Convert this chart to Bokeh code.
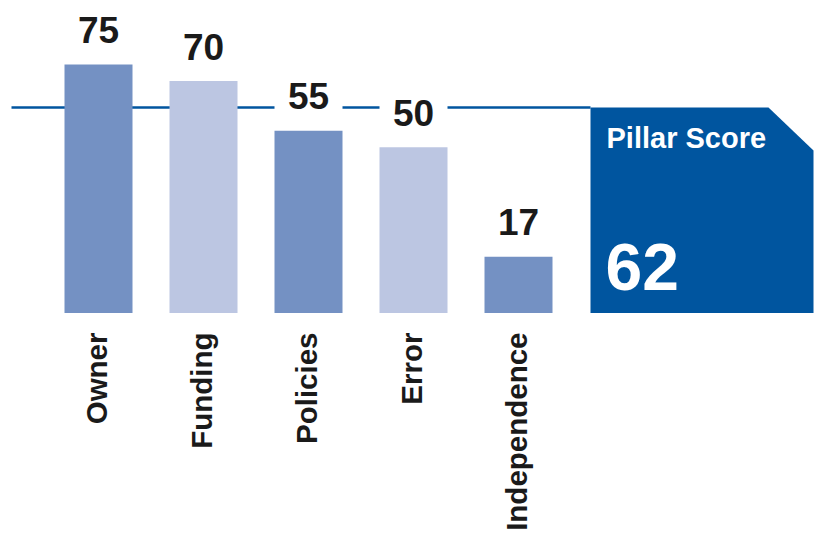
import numpy as np
from bokeh.plotting import figure
from bokeh.models import Range1d, ColumnDataSource
from bokeh.core.properties import value
from bokeh.embed import file_html
from bokeh.resources import INLINE

# ---- data ----
categories = ["Owner", "Funding", "Policies", "Error", "Independence"]
scores = [75, 70, 55, 50, 17]
pillar_score = 62
pillar_title = "Pillar Score"

# ---- style ----
DARK = "#7491c3"
LIGHT = "#bcc6e2"
BLUE = "#00559f"
INK = "#1a1a1a"
FONT = value("Liberation Sans")
bar_colors = [DARK if i % 2 == 0 else LIGHT for i in range(len(categories))]

W, H = 814, 536
px_x = 105.0       # px per category step
px_per_unit = 3.313  # px per score unit
x0_px, y0_px = 98.0, 312.5   # first bar centre / baseline, in page px

p = figure(width=W, height=H, output_backend="svg", toolbar_location=None,
           x_range=Range1d(-x0_px / px_x, (W - x0_px) / px_x),
           y_range=Range1d((y0_px - H) / px_per_unit, y0_px / px_per_unit),
           min_border=0)
p.axis.visible = False
p.grid.visible = False
p.outline_line_color = None
p.background_fill_color = "white"

xs = list(range(len(categories)))
bar_w = 68 / px_x

# box layout (data units)
box_left = (590 - x0_px) / px_x
box_right = (813 - x0_px) / px_x
corner_x = (768 - x0_px) / px_x
corner_y = (y0_px - 150) / px_per_unit

# reference line at pillar score
p.segment(x0=[(11 - x0_px) / px_x], y0=[pillar_score], x1=[box_left], y1=[pillar_score],
          line_color=BLUE, line_width=2.5)

src = ColumnDataSource(dict(x=xs, top=scores, color=bar_colors, cat=categories,
                            cat_x=[x - 2.5 / px_x for x in xs],
                            label=[str(s) for s in scores],
                            label_y=[s + 34.5 / px_per_unit for s in scores],
                            bg_bottom=[s + 1 for s in scores],
                            bg_top=[s + 16 for s in scores]))

p.vbar(x="x", top="top", bottom=0, width=bar_w, fill_color="color",
       line_color=None, source=src)

# white backgrounds behind value labels (hide the line under them)
p.vbar(x="x", top="bg_top", bottom="bg_bottom", width=bar_w, fill_color="white",
       line_color=None, source=src)

p.text(x="x", y="label_y", text="label", source=src, text_align="center",
       text_baseline="middle", text_font=FONT, text_font_style="bold",
       text_font_size="37px", text_color=INK)

# category labels, rotated
p.text(x="cat_x", y=-19.5 / px_per_unit, text="cat", source=src, angle=np.pi / 2,
       text_align="right", text_baseline="middle", text_font=FONT,
       text_font_style="bold", text_font_size="29.5px", text_color=INK)

# pillar score box
p.patch(x=[box_left, corner_x, box_right, box_right, box_left],
        y=[pillar_score, pillar_score, corner_y, 0, 0],
        fill_color=BLUE, line_color=None)

p.text(x=[box_left + 16 / px_x], y=[(y0_px - 137.5) / px_per_unit], text=[pillar_title],
       text_align="left", text_baseline="middle", text_font=FONT,
       text_font_style="bold", text_font_size="29px", text_color="white")
p.text(x=[box_left + 15 / px_x], y=[(y0_px - 266.5) / px_per_unit], text=[str(pillar_score)],
       text_align="left", text_baseline="middle", text_font=FONT,
       text_font_style="bold", text_font_size="66px", text_color="white")

open("out.html", "w").write(file_html(p, INLINE))
